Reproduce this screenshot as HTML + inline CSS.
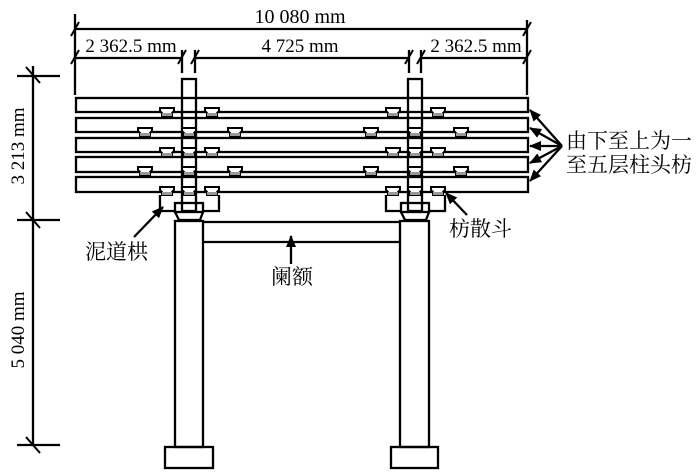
<!DOCTYPE html>
<html><head><meta charset="utf-8"><style>
body{margin:0;background:#fff;width:700px;height:473px;overflow:hidden}
svg{display:block}
text{font-family:"Liberation Serif","Noto Serif CJK SC",serif;fill:#000}
.c{font-family:"Liberation Serif","Noto Serif CJK SC",serif}
</style></head><body>
<svg width="700" height="473" viewBox="0 0 700 473" xmlns="http://www.w3.org/2000/svg">
<defs>
<g id="blk"><path d="M0,0 h14 v3 l-2,2 v3 h-10 v-3 l-2,-2 z" fill="#fff" stroke="#000" stroke-width="2"/><rect x="2" y="5" width="10" height="3" fill="#999"/></g>
<marker id="ah2" markerWidth="12" markerHeight="10" refX="11" refY="5" orient="auto" markerUnits="userSpaceOnUse"><path d="M0,0 L12,5 L0,10 z" fill="#000"/></marker>
</defs>
<g stroke="#000" stroke-width="2.3" fill="none">
<line x1="75" y1="29" x2="527" y2="29"/>
<line x1="75" y1="58" x2="182" y2="58"/>
<line x1="195" y1="58" x2="409" y2="58"/>
<line x1="421" y1="58" x2="527" y2="58"/>
<line x1="75" y1="14" x2="75" y2="95"/>
<line x1="527" y1="20" x2="527" y2="95"/>
<line x1="182" y1="50" x2="182" y2="73"/><line x1="195" y1="50" x2="195" y2="73"/>
<line x1="409" y1="50" x2="409" y2="73"/><line x1="421" y1="50" x2="421" y2="73"/>
<g stroke-width="2">
<line x1="71" y1="36" x2="79" y2="22"/><line x1="71" y1="64" x2="79" y2="50"/>
<line x1="523" y1="36" x2="531" y2="22"/><line x1="523" y1="64" x2="531" y2="50"/>
<line x1="178" y1="64" x2="186" y2="50"/><line x1="191" y1="64" x2="199" y2="50"/>
<line x1="405" y1="64" x2="413" y2="50"/><line x1="417" y1="64" x2="425" y2="50"/>
<line x1="26" y1="67" x2="40" y2="83"/><line x1="26" y1="212" x2="40" y2="228"/><line x1="26" y1="437" x2="40" y2="453"/>
</g>
<line x1="33" y1="66" x2="33" y2="445"/>
<line x1="17" y1="76" x2="60" y2="76"/><line x1="17" y1="220" x2="60" y2="220"/><line x1="17" y1="445" x2="60" y2="445"/>
<rect x="76" y="98" width="452" height="14" fill="#fff"/>
<rect x="76" y="118" width="452" height="14" fill="#fff"/>
<rect x="76" y="138" width="452" height="14" fill="#fff"/>
<rect x="76" y="157" width="452" height="15" fill="#fff"/>
<rect x="76" y="177" width="452" height="15" fill="#fff"/>
<path d="M160,195 V211 H175 M219,195 V211 H203"/>
<rect x="175" y="203" width="28" height="9" fill="#fff"/>
<path d="M175,212 L179,220 H200 L203,212"/>
<rect x="175" y="221" width="28" height="226"/>
<rect x="165" y="447" width="48" height="21"/>
<path d="M386,195 V211 H401 M445,195 V211 H429"/>
<rect x="401" y="203" width="28" height="9" fill="#fff"/>
<path d="M401,212 L405,220 H426 L429,212"/>
<rect x="400" y="221" width="29" height="226"/>
<rect x="391" y="447" width="47" height="21"/>
<rect x="182" y="79" width="14" height="132"/>
<rect x="408" y="79" width="14" height="132"/>
<line x1="203" y1="222" x2="400" y2="222"/>
<line x1="203" y1="242" x2="400" y2="242"/>
</g>
<g>
<use href="#blk" x="160" y="108"/><use href="#blk" x="205" y="108"/>
<use href="#blk" x="138" y="128"/><use href="#blk" x="182" y="128"/><use href="#blk" x="228" y="128"/>
<use href="#blk" x="160" y="148"/><use href="#blk" x="182" y="148"/><use href="#blk" x="205" y="148"/>
<use href="#blk" x="138" y="167"/><use href="#blk" x="182" y="167"/><use href="#blk" x="228" y="167"/>
<use href="#blk" x="160" y="187"/><use href="#blk" x="182" y="187"/><use href="#blk" x="205" y="187"/>
<use href="#blk" x="386" y="108"/><use href="#blk" x="431" y="108"/>
<use href="#blk" x="364" y="128"/><use href="#blk" x="408" y="128"/><use href="#blk" x="454" y="128"/>
<use href="#blk" x="386" y="148"/><use href="#blk" x="408" y="148"/><use href="#blk" x="431" y="148"/>
<use href="#blk" x="364" y="167"/><use href="#blk" x="408" y="167"/><use href="#blk" x="454" y="167"/>
<use href="#blk" x="386" y="187"/><use href="#blk" x="408" y="187"/><use href="#blk" x="431" y="187"/>
</g>
<g stroke="#000" stroke-width="2.3" fill="none">
<line x1="562" y1="146" x2="530" y2="110" marker-end="url(#ah2)"/>
<line x1="562" y1="146" x2="530" y2="128" marker-end="url(#ah2)"/>
<line x1="562" y1="146" x2="530" y2="146" marker-end="url(#ah2)"/>
<line x1="562" y1="146" x2="530" y2="163" marker-end="url(#ah2)"/>
<line x1="562" y1="146" x2="530" y2="181" marker-end="url(#ah2)"/>
<line x1="134" y1="237" x2="163" y2="207" marker-end="url(#ah2)"/>
<line x1="467" y1="215" x2="446" y2="193" marker-end="url(#ah2)"/>
<line x1="291" y1="264" x2="291" y2="236" marker-end="url(#ah2)"/>
</g>
<text x="300" y="23" font-size="20" text-anchor="middle">10 080 mm</text>
<text x="131" y="52" font-size="19" text-anchor="middle">2 362.5 mm</text>
<text x="300" y="52" font-size="19" text-anchor="middle">4 725 mm</text>
<text x="476" y="52" font-size="19" text-anchor="middle">2 362.5 mm</text>
<text transform="translate(24,146) rotate(-90)" font-size="19" text-anchor="middle">3 213 mm</text>
<text transform="translate(24,330) rotate(-90)" font-size="19" text-anchor="middle">5 040 mm</text>
<text class="c" x="566" y="148" font-size="21">由下至上为一</text>
<text class="c" x="566" y="172" font-size="21">至五层柱头枋</text>
<text class="c" x="85" y="259" font-size="21">泥道栱</text>
<text class="c" x="449" y="236" font-size="21">枋散斗</text>
<text class="c" x="271" y="284" font-size="21">阑额</text>
</svg>
</body></html>
